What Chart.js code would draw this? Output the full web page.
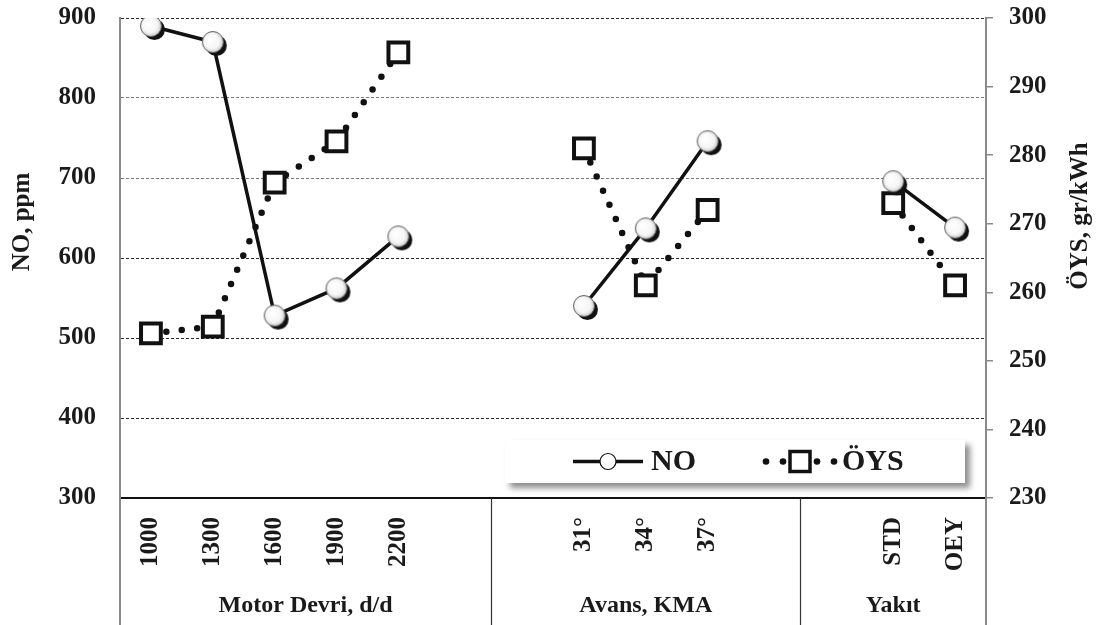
<!DOCTYPE html>
<html lang="tr">
<head>
<meta charset="utf-8">
<title>NO ve ÖYS</title>
<script src="https://cdn.jsdelivr.net/npm/chart.js@4/dist/chart.umd.min.js"></script>
<style>
  html, body { margin: 0; padding: 0; background: #fff; }
  canvas { display: block; }
</style>
</head>
<body>
<canvas id="chart" width="1099" height="625"></canvas>
<script>
// ---- data ----
const motorSpeeds   = ['1000', '1300', '1600', '1900', '2200'];
const advanceAngles = ['31°', '34°', '37°'];
const fuels         = ['STD', 'OEY'];
const groupNames    = ['Motor Devri, d/d', 'Avans, KMA', 'Yakıt'];

const noMotor    = [890, 870, 528, 562, 627];
const noAdvance  = [540, 637, 746];
const noFuel     = [696, 638];

const oysMotor   = [254, 255, 276, 282, 295];
const oysAdvance = [281, 261, 272];
const oysFuel    = [273, 261];

const seriesNames = ['NO', 'ÖYS'];
const leftTitle  = 'NO, ppm';
const rightTitle = 'ÖYS, gr/kWh';

// ---- build category axis with empty slots between groups ----
const GAP = 2;
const groupLabels = [motorSpeeds, advanceAngles, fuels];
const groupNo     = [noMotor, noAdvance, noFuel];
const groupOys    = [oysMotor, oysAdvance, oysFuel];

const labels = [], noData = [], oysData = [], groupStart = [];
groupLabels.forEach((g, gi) => {
  if (gi > 0) for (let k = 0; k < GAP; k++) { labels.push(''); noData.push(null); oysData.push(null); }
  groupStart.push(labels.length);
  g.forEach((lab, i) => { labels.push(lab); noData.push(groupNo[gi][i]); oysData.push(groupOys[gi][i]); });
});

const FONT = "'Liberation Serif', 'Times New Roman', serif";

// white ball marker with dark drop shadow
function makeBallMarker() {
  const c = document.createElement('canvas');
  c.width = 36; c.height = 36;
  const g = c.getContext('2d');
  g.fillStyle = '#111';
  g.beginPath(); g.arc(21.5, 21.5, 10.5, 0, Math.PI * 2); g.fill();
  const grad = g.createRadialGradient(15, 15, 1, 18, 18, 11);
  grad.addColorStop(0, '#ffffff');
  grad.addColorStop(0.65, '#f6f6f6');
  grad.addColorStop(1, '#c8c8c8');
  g.fillStyle = grad;
  g.beginPath(); g.arc(18, 18, 10.5, 0, Math.PI * 2); g.fill();
  g.strokeStyle = '#666'; g.lineWidth = 1; g.stroke();
  return c;
}
const ball = makeBallMarker();

// keep the plot area exactly where the layout puts it
function noScalePadding(s) {
  s.paddingTop = 0; s.paddingBottom = 0; s.paddingLeft = 0; s.paddingRight = 0;
}

// titles, group captions, separators and legend
const decorations = {
  id: 'decorations',
  afterDraw(chart) {
    const { ctx, chartArea: a, scales } = chart;
    const x = scales.x;
    const H = chart.height;

    // group boundaries from the category scale
    const bounds = [a.left];
    for (let gi = 0; gi < groupLabels.length - 1; gi++) {
      const idx = groupStart[gi] + groupLabels[gi].length + GAP / 2 - 0.5;
      bounds.push(x.getPixelForValue(idx));
    }
    bounds.push(a.right);

    ctx.save();
    // axis lines continued below the plot
    ctx.strokeStyle = '#8a8a8a'; ctx.lineWidth = 2;
    [a.left, a.right].forEach(px => {
      ctx.beginPath(); ctx.moveTo(px, a.bottom); ctx.lineTo(px, H); ctx.stroke();
    });
    ctx.strokeStyle = '#333'; ctx.lineWidth = 1.2;
    bounds.slice(1, -1).forEach(px => {
      ctx.beginPath(); ctx.moveTo(Math.round(px) + 0.5, a.bottom); ctx.lineTo(Math.round(px) + 0.5, H); ctx.stroke();
    });

    // group captions
    ctx.fillStyle = '#1a1a1a';
    ctx.font = 'bold 24px ' + FONT;
    ctx.textAlign = 'center'; ctx.textBaseline = 'middle';
    groupNames.forEach((n, gi) => ctx.fillText(n, (bounds[gi] + bounds[gi + 1]) / 2, 606));

    // axis titles
    ctx.font = 'bold 25px ' + FONT;
    ctx.save(); ctx.translate(23, 222); ctx.rotate(-Math.PI / 2); ctx.fillText(leftTitle, 0, 0); ctx.restore();
    ctx.save(); ctx.translate(1081, 216); ctx.rotate(-Math.PI / 2); ctx.fillText(rightTitle, 0, 0); ctx.restore();

    // legend box with shadow
    const bx = 505, by = 440, bw = 460, bh = 43;
    ctx.save();
    ctx.shadowColor = 'rgba(0,0,0,0.45)';
    ctx.shadowBlur = 6; ctx.shadowOffsetX = 5; ctx.shadowOffsetY = 5;
    ctx.fillStyle = '#fff';
    ctx.fillRect(bx, by, bw, bh);
    ctx.restore();

    const ly = by + bh / 2;
    const ds = chart.data.datasets;
    // NO entry: solid line with open circle
    ctx.strokeStyle = '#111'; ctx.lineWidth = 3.5; ctx.lineCap = 'butt';
    ctx.beginPath(); ctx.moveTo(573, ly); ctx.lineTo(643, ly); ctx.stroke();
    ctx.fillStyle = '#fff'; ctx.lineWidth = 1.2;
    ctx.beginPath(); ctx.arc(608, ly, 8, 0, Math.PI * 2); ctx.fill(); ctx.stroke();
    // ÖYS entry: dotted line with square
    ctx.fillStyle = '#111';
    [766, 783, 817, 834].forEach(px => { ctx.beginPath(); ctx.arc(px, ly, 3.3, 0, Math.PI * 2); ctx.fill(); });
    ctx.fillStyle = '#fff'; ctx.strokeStyle = '#111'; ctx.lineWidth = 3.5;
    ctx.fillRect(790, ly - 10, 20, 20); ctx.strokeRect(790, ly - 10, 20, 20);

    ctx.fillStyle = '#1a1a1a';
    ctx.font = 'bold 30px ' + FONT;
    ctx.textAlign = 'left'; ctx.textBaseline = 'middle';
    ctx.fillText(ds[0].label, 651, ly + 1);
    ctx.fillText(ds[1].label, 842, ly + 1);
    ctx.restore();
  }
};

new Chart(document.getElementById('chart'), {
  type: 'line',
  data: {
    labels: labels,
    datasets: [
      {
        label: seriesNames[0],
        data: noData,
        yAxisID: 'y',
        borderColor: '#111',
        borderWidth: 3.5,
        pointStyle: ball,
        pointRadius: 11,
        spanGaps: false,
        tension: 0
      },
      {
        label: seriesNames[1],
        data: oysData,
        yAxisID: 'y1',
        borderColor: '#111',
        borderWidth: 6.5,
        borderDash: [0, 15.5],
        borderCapStyle: 'round',
        pointStyle: 'rect',
        pointRadius: 14,
        pointBorderWidth: 4,
        pointBorderColor: '#111',
        pointBackgroundColor: '#fff',
        spanGaps: false,
        tension: 0
      }
    ]
  },
  options: {
    responsive: false,
    animation: false,
    devicePixelRatio: 1,
    layout: { padding: { top: 16, left: 0, right: 0, bottom: 0 } },
    plugins: { legend: { display: false }, tooltip: { enabled: false } },
    scales: {
      x: {
        type: 'category',
        offset: true,
        grid: { display: false, offset: true },
        border: { display: true, color: '#111', width: 2 },
        ticks: {
          autoSkip: false, minRotation: 90, maxRotation: 90, padding: 11,
          color: '#1a1a1a', font: { family: FONT, size: 25, weight: 'bold' }
        },
        afterFit(s) { s.height = 127; noScalePadding(s); }
      },
      y: {
        position: 'left',
        min: 300, max: 900,
        ticks: {
          stepSize: 100, padding: 24,
          color: '#1a1a1a', font: { family: FONT, size: 25, weight: 'bold' }
        },
        grid: {
          drawTicks: false,
          lineWidth: 1,
          color: c => (c.tick && (c.tick.value === 800 || c.tick.value === 700)) ? '#7a7a7a' : '#2a2a2a'
        },
        border: { display: true, color: '#8a8a8a', width: 2, dash: [3, 2] },
        afterFit(s) { s.width = 120; noScalePadding(s); }
      },
      y1: {
        position: 'right',
        min: 230, max: 300,
        ticks: {
          stepSize: 10, padding: 16,
          color: '#1a1a1a', font: { family: FONT, size: 25, weight: 'bold' }
        },
        grid: { drawOnChartArea: false, drawTicks: true, tickLength: 7, color: '#8a8a8a', lineWidth: 1.5 },
        border: { display: true, color: '#8a8a8a', width: 2 },
        afterFit(s) { s.width = 113; noScalePadding(s); }
      }
    }
  },
  plugins: [decorations]
});
</script>
</body>
</html>
